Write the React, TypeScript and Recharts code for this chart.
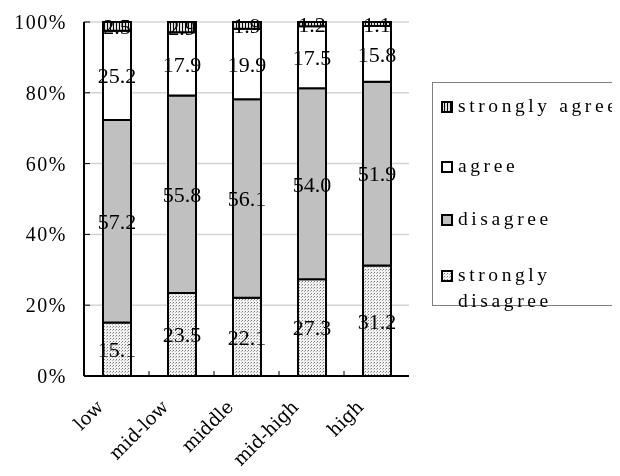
import React from 'react';
import {
  BarChart,
  Bar,
  XAxis,
  YAxis,
  CartesianGrid,
  LabelList,
} from 'recharts';

const categories = ['low', 'mid-low', 'middle', 'mid-high', 'high'];
const stronglyDisagree = [15.1, 23.5, 22.1, 27.3, 31.2];
const disagree = [57.2, 55.8, 56.1, 54.0, 51.9];
const agree = [25.2, 17.9, 19.9, 17.5, 15.8];
const stronglyAgree = [2.5, 2.9, 1.9, 1.2, 1.1];
const yTicks = [0, 0.2, 0.4, 0.6, 0.8, 1];

const data = categories.map((name, i) => ({
  name,
  sd: stronglyDisagree[i],
  d: disagree[i],
  a: agree[i],
  sa: stronglyAgree[i],
}));

const FONT = '"Liberation Serif", "DejaVu Serif", serif';
const WIDE_FONT = '"DejaVu Serif", "Liberation Serif", serif';

const series = [
  { key: 'sa', label: 'strongly agree', fill: 'url(#stripes)' },
  { key: 'a', label: 'agree', fill: '#ffffff' },
  { key: 'd', label: 'disagree', fill: '#c0c0c0' },
  { key: 'sd', label: 'strongly disagree', fill: 'url(#dots)' },
];

const YTick = (props: any) => {
  const { x, y, payload } = props;
  return (
    <g>
      <line x1={x} x2={x + 6} y1={y} y2={y} stroke="#000" strokeWidth={1} />
      <text
        x={x - 17}
        y={y}
        dy={7}
        textAnchor="end"
        fontFamily={FONT}
        fontSize={20}
        style={{ letterSpacing: 1.5 }}
        fill="#000"
      >
        {Math.round(payload.value * 100) + '%'}
      </text>
    </g>
  );
};

const XTick = (props: any) => {
  const { x, y, payload, width, visibleTicksCount, index } = props;
  const band = width / visibleTicksCount;
  return (
    <g>
      {index < visibleTicksCount - 1 && (
        <line x1={x + band / 2} x2={x + band / 2} y1={y} y2={y - 5} stroke="#000" strokeWidth={1} />
      )}
      <g transform={`translate(${x - 12}, ${y + 32}) rotate(-45)`}>
        <text x={0} y={0} textAnchor="end" fontFamily={WIDE_FONT} fontSize={18.5} fill="#000">
          {payload.value}
        </text>
      </g>
    </g>
  );
};

const LegendBox = () => (
  <div
    style={{
      position: 'absolute',
      left: 424,
      top: 74,
      width: 200,
      height: 224,
      border: '1px solid #808080',
      boxSizing: 'border-box',
      fontFamily: FONT,
      fontSize: 19.5,
      letterSpacing: 3.6,
      color: '#000',
    }}
  >
    {series.map((s, i) => {
      const top = [10, 70, 123, 179][i];
      return (
        <div key={s.key} style={{ position: 'absolute', left: 8, top, display: 'flex', alignItems: 'flex-start' }}>
          <svg width={12} height={12} style={{ marginTop: 8, marginRight: 5, flex: 'none' }}>
            <rect x={1} y={1} width={10} height={10} fill={s.fill} stroke="#000" strokeWidth={2} />
          </svg>
          <span style={{ lineHeight: '26px', whiteSpace: 'pre' }}>
            {s.key === 'sd' ? 'strongly\ndisagree' : s.label}
          </span>
        </div>
      );
    })}
  </div>
);

const fmt = (v: any) => Number(v).toFixed(1);

export default function App() {
  return (
    <div style={{ position: 'relative', width: 612, height: 468, willChange: 'transform' }}>
      <BarChart
        width={612}
        height={468}
        data={data}
        stackOffset="expand"
        margin={{ top: 14, right: 211, bottom: 0, left: 0 }}
        style={{ background: '#fff' }}
      >
        <defs>
          <pattern id="dots" width={3} height={3} patternUnits="userSpaceOnUse">
            <rect width={3} height={3} fill="#f2f2f2" />
            <rect x={0} y={0} width={1} height={1} fill="#7a7a7a" />
            <rect x={2} y={1} width={1} height={1} fill="#b0b0b0" />
          </pattern>
          <pattern id="stripes" width={3} height={3} patternUnits="userSpaceOnUse">
            <rect width={3} height={3} fill="#e0e0e0" />
            <rect x={0} y={0} width={1} height={3} fill="#000" />
          </pattern>
        </defs>
        <CartesianGrid vertical={false} stroke="#d4d4d4" strokeWidth={1.5} />
        <XAxis
          dataKey="name"
          height={100}
          tickSize={0}
          tickMargin={0}
          axisLine={{ stroke: '#000', strokeWidth: 2 }}
          tick={<XTick />}
          interval={0}
        />
        <XAxis xAxisId="top" orientation="top" dataKey="name" height={0} tick={false} tickLine={false} axisLine={{ stroke: '#909090', strokeWidth: 1.5 }} />
        <YAxis
          width={76}
          domain={[0, 1]}
          ticks={yTicks}
          tickSize={0}
          tickMargin={0}
          axisLine={{ stroke: '#000', strokeWidth: 2 }}
          tick={<YTick />}
        />
        <YAxis yAxisId="right" orientation="right" width={0} tick={false} tickLine={false} axisLine={{ stroke: '#909090', strokeWidth: 1.5 }} />
        {[...series].reverse().map((s) => (
          <Bar
            key={s.key}
            dataKey={s.key}
            stackId="1"
            fill={s.fill}
            stroke="#000"
            strokeWidth={2}
            barSize={28}
            isAnimationActive={false}
          >
            <LabelList
              dataKey={s.key}
              position="center"
              formatter={fmt}
              fill="#000"
              fontFamily={FONT}
              fontSize={22}
            />
          </Bar>
        ))}
      </BarChart>
      <LegendBox />
    </div>
  );
}
